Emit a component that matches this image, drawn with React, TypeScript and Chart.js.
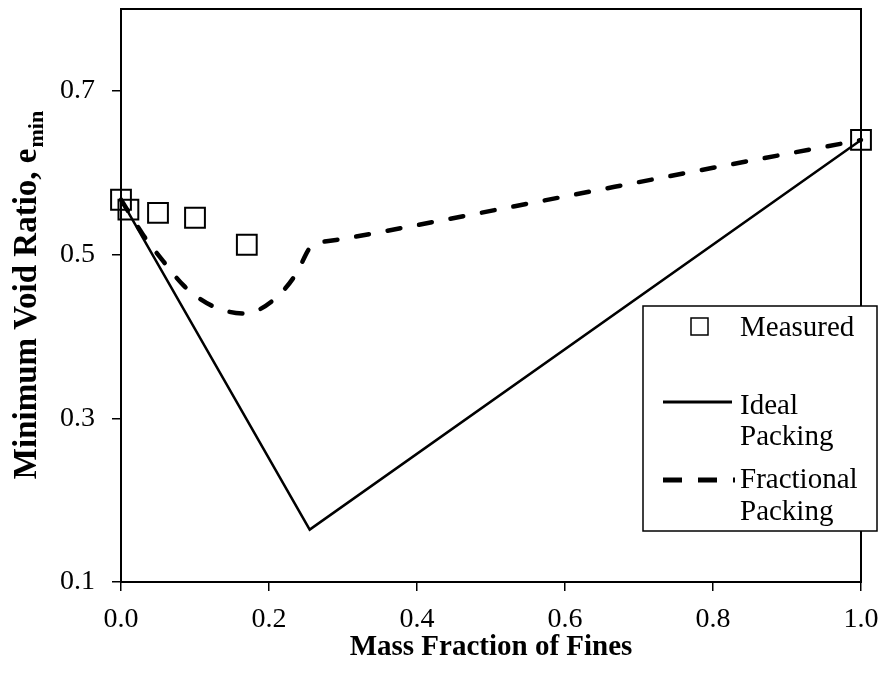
import React, { useEffect, useRef } from 'react';
import Chart from 'chart.js/auto';

const measuredX = [0, 0.01, 0.05, 0.1, 0.17, 1.0];
const measuredY = [0.567, 0.555, 0.551, 0.545, 0.512, 0.64];
const idealX = [0, 0.255, 1.0];
const idealY = [0.567, 0.164, 0.64];
const fractionalX = [0, 0.03, 0.057, 0.086, 0.124, 0.167, 0.208, 0.237, 0.255, 0.264, 0.3, 0.4, 0.6, 0.8, 1.0];
const fractionalY = [0.567, 0.524, 0.492, 0.461, 0.437, 0.428, 0.446, 0.477, 0.508, 0.513, 0.519, 0.536, 0.571, 0.606, 0.64];
const xTicks = [0, 0.2, 0.4, 0.6, 0.8, 1.0];
const yTicks = [0.1, 0.3, 0.5, 0.7];
const xTitle = 'Mass Fraction of Fines';
const yTitleMain = 'Minimum Void Ratio, e';
const yTitleSub = 'min';
const legendLabels = ['Measured', 'Ideal', 'Packing', 'Fractional', 'Packing'];

const SERIF = "'Liberation Serif', 'Times New Roman', serif";

const framePlugin = {
  id: 'frame',
  beforeDatasetsDraw(chart: any) {
    const { ctx, chartArea: a } = chart;
    ctx.save();
    ctx.strokeStyle = '#000';
    ctx.lineWidth = 2;
    ctx.strokeRect(a.left, a.top, a.right - a.left, a.bottom - a.top);
    ctx.restore();
  },
};

const yTitlePlugin = {
  id: 'yTitle',
  afterDraw(chart: any) {
    const { ctx, chartArea: a } = chart;
    ctx.save();
    ctx.translate(36, (a.top + a.bottom) / 2);
    ctx.rotate(-Math.PI / 2);
    ctx.fillStyle = '#000';
    ctx.textBaseline = 'alphabetic';
    ctx.font = `bold 33px ${SERIF}`;
    const w1 = ctx.measureText(yTitleMain).width;
    ctx.font = `bold 22px ${SERIF}`;
    const w2 = ctx.measureText(yTitleSub).width;
    const start = -(w1 + w2) / 2;
    ctx.font = `bold 33px ${SERIF}`;
    ctx.textAlign = 'left';
    ctx.fillText(yTitleMain, start, 0);
    ctx.font = `bold 22px ${SERIF}`;
    ctx.fillText(yTitleSub, start + w1 + 1, 7);
    ctx.restore();
  },
};

const legendPlugin = {
  id: 'customLegend',
  afterDraw(chart: any) {
    const { ctx, chartArea: a } = chart;
    const left = a.right - 218;
    const right = a.right + 16;
    const top = a.top + 297;
    const bottom = a.top + 522;
    ctx.save();
    ctx.fillStyle = '#fff';
    ctx.fillRect(left, top, right - left, bottom - top);
    ctx.strokeStyle = '#000';
    ctx.lineWidth = 1.5;
    ctx.strokeRect(left, top, right - left, bottom - top);

    // square marker
    ctx.lineWidth = 1.5;
    ctx.strokeRect(left + 48, top + 12, 17, 17);

    // solid line sample
    ctx.lineWidth = 3;
    ctx.beginPath();
    ctx.moveTo(left + 20, top + 96);
    ctx.lineTo(left + 89, top + 96);
    ctx.stroke();

    // dashed sample
    ctx.lineWidth = 5;
    ctx.setLineDash([19, 16]);
    ctx.beginPath();
    ctx.moveTo(left + 20, top + 174);
    ctx.lineTo(left + 92, top + 174);
    ctx.stroke();
    ctx.setLineDash([]);

    ctx.fillStyle = '#000';
    ctx.font = `29px ${SERIF}`;
    ctx.textAlign = 'left';
    ctx.textBaseline = 'middle';
    const tx = left + 97;
    const ys = [22, 100, 131, 174, 206];
    legendLabels.forEach((t, i) => ctx.fillText(t, tx, top + ys[i]));
    ctx.restore();
  },
};

export default function App() {
  const ref = useRef<HTMLCanvasElement | null>(null);
  useEffect(() => {
    if (!ref.current) return;
    const tickFont = { family: SERIF, size: 28 };
    const chart = new Chart(ref.current, {
      type: 'scatter',
      data: {
        datasets: [
          {
            label: 'Measured',
            data: measuredX.map((x, i) => ({ x, y: measuredY[i] })),
            pointStyle: 'rect',
            pointRadius: 14,
            pointHoverRadius: 14,
            borderColor: '#000',
            backgroundColor: 'rgba(0,0,0,0)',
            borderWidth: 2,
            showLine: false,
            clip: false,
          },
          {
            label: 'Ideal Packing',
            data: idealX.map((x, i) => ({ x, y: idealY[i] })),
            borderColor: '#000',
            backgroundColor: '#000',
            borderWidth: 2.5,
            pointRadius: 0,
            showLine: true,
            tension: 0,
            fill: false,
            clip: false,
          },
          {
            label: 'Fractional Packing',
            data: fractionalX.map((x, i) => ({ x, y: fractionalY[i] })),
            borderColor: '#000',
            backgroundColor: '#000',
            borderWidth: 4.5,
            borderDash: [13, 19],
            borderCapStyle: 'round',
            pointRadius: 0,
            showLine: true,
            cubicInterpolationMode: 'monotone',
            fill: false,
            clip: false,
          },
        ],
      },
      options: {
        animation: false,
        responsive: false,
        devicePixelRatio: 1,
        layout: { autoPadding: false, padding: { left: 0, right: 23, top: 9, bottom: 0 } },
        plugins: { legend: { display: false }, tooltip: { enabled: false } },
        scales: {
          x: {
            type: 'linear',
            min: 0,
            max: 1,
            afterBuildTicks: (s: any) => {
              s.ticks = xTicks.map((v) => ({ value: v }));
            },
            afterFit: (s: any) => {
              s.height = 95;
              s.paddingLeft = 0;
              s.paddingRight = 0;
            },
            ticks: {
              callback: (v: any) => Number(v).toFixed(1),
              font: tickFont,
              color: '#000',
              padding: 12,
              maxRotation: 0,
            },
            grid: { drawOnChartArea: false, tickLength: 9, color: '#000', lineWidth: 1.5 },
            border: { display: true, color: '#000', width: 2 },
            title: {
              display: true,
              text: xTitle,
              font: { family: SERIF, size: 29, weight: 'bold' },
              color: '#000',
              padding: { top: 0, bottom: 12 },
            },
          },
          y: {
            type: 'linear',
            min: 0.1,
            max: 0.8,
            afterBuildTicks: (s: any) => {
              s.ticks = yTicks.map((v) => ({ value: v }));
            },
            afterFit: (s: any) => {
              s.width = 121;
              s.paddingTop = 0;
              s.paddingBottom = 0;
            },
            ticks: {
              callback: (v: any) => Number(v).toFixed(1),
              font: tickFont,
              color: '#000',
              padding: 17,
            },
            grid: { drawOnChartArea: false, tickLength: 9, color: '#000', lineWidth: 1.5 },
            border: { display: true, color: '#000', width: 2 },
          },
        },
      },
      plugins: [framePlugin, legendPlugin, yTitlePlugin],
    } as any);
    return () => chart.destroy();
  }, []);
  return (
    <div style={{ position: 'fixed', left: 0, top: 0, width: 884, height: 677, background: '#fff' }}>
      <canvas ref={ref} width={884} height={677} style={{ width: 884, height: 677, display: 'block' }} />
    </div>
  );
}
